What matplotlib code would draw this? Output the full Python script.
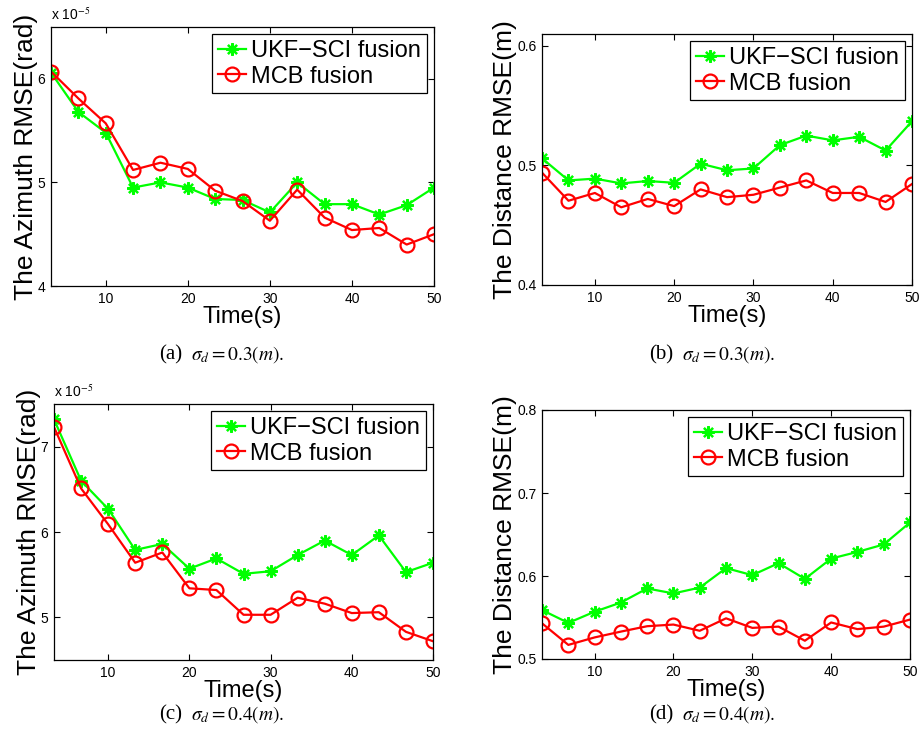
import matplotlib
matplotlib.use("Agg")
import matplotlib.pyplot as plt

plt.rcParams['font.family'] = ['Liberation Sans', 'DejaVu Sans']
plt.rcParams['mathtext.fontset'] = 'stix'

time_s = [3.33, 6.67, 10, 13.33, 16.67, 20, 23.33, 26.67, 30, 33.33, 36.67, 40, 43.33, 46.67, 50]
labels = ["UKF\u2212SCI fusion", "MCB fusion"]

# (a) azimuth RMSE, sigma_d = 0.3 (units 1e-5 rad)
az03_ukf = [6.06, 5.68, 5.48, 4.95, 5.00, 4.95, 4.84, 4.83, 4.71, 5.00, 4.79, 4.79, 4.69, 4.78, 4.95]
az03_mcb = [6.07, 5.81, 5.57, 5.12, 5.19, 5.13, 4.92, 4.82, 4.63, 4.93, 4.66, 4.54, 4.56, 4.40, 4.50]
# (b) distance RMSE, sigma_d = 0.3 (m)
di03_ukf = [0.506, 0.4875, 0.489, 0.485, 0.487, 0.4855, 0.5015, 0.496, 0.4975, 0.517, 0.525, 0.521, 0.524, 0.5125, 0.537]
di03_mcb = [0.494, 0.4705, 0.477, 0.465, 0.472, 0.466, 0.480, 0.4735, 0.4755, 0.4815, 0.4875, 0.477, 0.477, 0.4695, 0.4845]
# (c) azimuth RMSE, sigma_d = 0.4 (units 1e-5 rad)
az04_ukf = [7.32, 6.60, 6.27, 5.79, 5.86, 5.57, 5.69, 5.51, 5.54, 5.73, 5.90, 5.73, 5.96, 5.53, 5.64]
az04_mcb = [7.23, 6.51, 6.09, 5.64, 5.76, 5.34, 5.32, 5.03, 5.03, 5.23, 5.16, 5.05, 5.06, 4.83, 4.72]
# (d) distance RMSE, sigma_d = 0.4 (m)
di04_ukf = [0.559, 0.5435, 0.557, 0.568, 0.585, 0.579, 0.586, 0.6095, 0.601, 0.6155, 0.5965, 0.621, 0.629, 0.638, 0.6645]
di04_mcb = [0.543, 0.517, 0.526, 0.533, 0.5395, 0.5415, 0.534, 0.549, 0.5375, 0.539, 0.522, 0.544, 0.536, 0.539, 0.5475]

W, H = 923, 743
fig = plt.figure(figsize=(W / 100, H / 100), dpi=100)

def add_ax(l, r, t, b):
    return fig.add_axes([l / W, (H - b) / H, (r - l) / W, (b - t) / H])

panels = [
    dict(box=(51, 434, 27, 286), ukf=az03_ukf, mcb=az03_mcb, ylim=(4, 6.5), yticks=[4, 5, 6],
         yfmt="{:.0f}", ylabel="The Azimuth RMSE(rad)", scale=True,
         cap="(a)", capx=182, capy=355, caption=r"$\sigma_d = 0.3(m).$"),
    dict(box=(542, 912, 34, 285), ukf=di03_ukf, mcb=di03_mcb, ylim=(0.4, 0.61), yticks=[0.4, 0.5, 0.6],
         yfmt="{:.1f}", ylabel="The Distance RMSE(m)", scale=False,
         cap="(b)", capx=673, capy=355, caption=r"$\sigma_d = 0.3(m).$"),
    dict(box=(54, 433, 404, 660), ukf=az04_ukf, mcb=az04_mcb, ylim=(4.5, 7.5), yticks=[5, 6, 7],
         yfmt="{:.0f}", ylabel="The Azimuth RMSE(rad)", scale=True,
         cap="(c)", capx=182, capy=715, caption=r"$\sigma_d = 0.4(m).$"),
    dict(box=(542, 910, 410, 659), ukf=di04_ukf, mcb=di04_mcb, ylim=(0.5, 0.8), yticks=[0.5, 0.6, 0.7, 0.8],
         yfmt="{:.1f}", ylabel="The Distance RMSE(m)", scale=False,
         cap="(d)", capx=673, capy=715, caption=r"$\sigma_d = 0.4(m).$"),
]

for p in panels:
    ax = add_ax(*p["box"])
    ax.plot(time_s, p["ukf"], color=(0, 1, 0), lw=1.6, marker=(8, 2, 0), ms=9, mew=1.6,
            label=labels[0])
    ax.plot(time_s, p["mcb"], color=(1, 0, 0), lw=1.6, marker='o', ms=10, mew=1.6,
            mfc='none', label=labels[1])
    ax.set_xlim(time_s[0], time_s[-1])
    ax.set_ylim(*p["ylim"])
    ax.set_xticks([10, 20, 30, 40, 50])
    ax.set_yticks(p["yticks"])
    ax.set_yticklabels([p["yfmt"].format(v) for v in p["yticks"]])
    ax.tick_params(direction='in', top=True, right=True, labelsize=10, length=4, width=0.8, pad=4)
    for s in ax.spines.values():
        s.set_linewidth(0.9)
    ax.set_xlabel("Time(s)", fontsize=17, labelpad=0)
    ax.set_ylabel(p["ylabel"], fontsize=19, labelpad=0)
    leg = ax.legend(loc='upper right', fontsize=17, handlelength=1.2, handletextpad=0.2,
                    borderpad=0.25, labelspacing=0.15, borderaxespad=0.3, fancybox=False,
                    framealpha=1, edgecolor='black')
    leg.get_frame().set_linewidth(0.9)
    if p["scale"]:
        ax.text(0.0, 1.015, r"x 10$^{-5}$", transform=ax.transAxes, fontsize=10,
                ha='left', va='bottom')
    fig.text(p["capx"] / W, 1 - p["capy"] / H, p["cap"], ha='right', va='center',
             fontsize=15, family='Liberation Serif')
    fig.text((p["capx"] + 9) / W, 1 - p["capy"] / H, p["caption"], ha='left', va='center',
             fontsize=14)

fig.savefig("out.png", dpi=100)
